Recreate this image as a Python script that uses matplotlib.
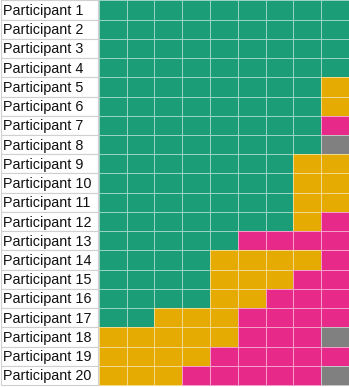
import matplotlib
matplotlib.use("Agg")
import matplotlib.pyplot as plt
from matplotlib.colors import ListedColormap
from matplotlib.patches import Rectangle
import numpy as np

participants = [f"Participant {i}" for i in range(1, 21)]
# codes: G green, Y yellow, M magenta, X gray
rows = [
    "GGGGGGGGG",
    "GGGGGGGGG",
    "GGGGGGGGG",
    "GGGGGGGGG",
    "GGGGGGGGY",
    "GGGGGGGGY",
    "GGGGGGGGM",
    "GGGGGGGGX",
    "GGGGGGGYY",
    "GGGGGGGYY",
    "GGGGGGGYY",
    "GGGGGGGYM",
    "GGGGGMMMM",
    "GGGGYYYYM",
    "GGGGYYYMM",
    "GGGGYYMMM",
    "GGYYYMMMM",
    "YYYYYMMMX",
    "YYYYMMMMM",
    "YYYMMMMMX",
]
code_index = {"G": 0, "Y": 1, "M": 2, "X": 3}
colors = ["#1b9e77", "#e6ab02", "#e7298a", "#808080"]

data = np.array([[code_index[c] for c in r] for r in rows])
nrows, ncols = data.shape

fig = plt.figure(figsize=(3.49, 3.87), dpi=100)
ax = fig.add_axes([0, 0, 1, 1])
label_w = 98.5 / 27.9

cmap = ListedColormap(colors)
ax.pcolormesh(np.arange(ncols + 1), np.arange(nrows + 1), data, cmap=cmap,
              vmin=-0.5, vmax=3.5, edgecolors=(1, 1, 1, 0.55), linewidth=0.6)

for i, name in enumerate(participants):
    ax.add_patch(Rectangle((-label_w, i), label_w - 0.02, 1, facecolor="white",
                           edgecolor="#d0d0d0", linewidth=0.8))
    ax.text(-label_w + 0.1, i + 0.55, name, ha="left", va="center",
            fontsize=10.4, family="Liberation Sans", color="#111111")

ax.set_xlim(-label_w - 0.02, ncols)
ax.set_ylim(nrows + 0.1, -0.02)
ax.axis("off")
fig.savefig("out.png", dpi=100, facecolor="white")
